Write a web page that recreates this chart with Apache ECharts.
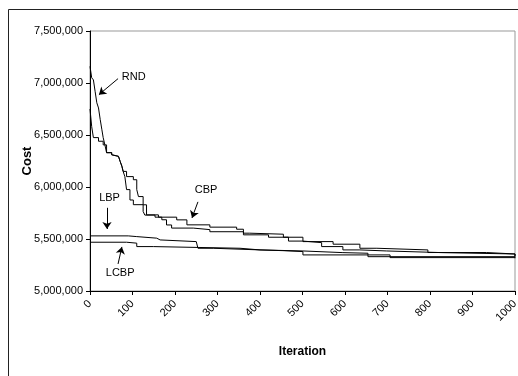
<!DOCTYPE html>
<html>
<head>
<meta charset="utf-8">
<script src="https://cdn.jsdelivr.net/npm/echarts@6/dist/echarts.min.js"></script>
<style>
html,body{margin:0;padding:0;background:#fff;}
#c{width:518px;height:376px;}
</style>
</head>
<body>
<div id="c"></div>
<script>
// ---- data (iteration, cost) ----
var xTicks = [0,100,200,300,400,500,600,700,800,900,1000];
var yTicks = [5000000,5500000,6000000,6500000,7000000,7500000];

var rndIter = [0,4,8,12,16,20,24,28,31,35,39,51,55,67,71,75,78,82,86,94,102,125,129,153,169,180,192,243,282,361,420,467,501,545,595,635,698,828,1000];
var rndCost = [7160000,7050000,7030000,6920000,6810000,6760000,6650000,6550000,6475000,6405000,6330000,6310000,6295000,6280000,6245000,6200000,6150000,6100000,5975000,5875000,5830000,5765000,5730000,5710000,5685000,5635000,5605000,5590000,5570000,5540000,5517000,5480000,5465000,5427000,5395000,5385000,5369000,5356000,5330000];

var cbpIter = [0,4,8,20,31,39,51,55,67,71,75,78,86,102,110,114,125,133,161,204,228,282,345,361,376,455,501,572,635,675,795,933,1000];
var cbpCost = [6750000,6580000,6475000,6440000,6405000,6330000,6310000,6295000,6280000,6245000,6200000,6150000,6100000,6070000,5975000,5908000,5829000,5732000,5710000,5684000,5636000,5614000,5594000,5556000,5546000,5517000,5475000,5450000,5411000,5395000,5370000,5356000,5337000];

var lbpIter = [0,90,110,157,165,250,254,290,400,454,501,706,1000];
var lbpCost = [5530000,5523000,5508000,5491000,5475000,5469000,5411000,5395000,5388000,5379000,5347000,5321000,5320000];

var lcbpIter = [0,86,110,149,353,400,501,595,654,1000];
var lcbpCost = [5469000,5460000,5427000,5411000,5395000,5385000,5369000,5363000,5330000,5315000];

// annotation labels and arrows (data coordinates)
var labelNames = ['RND','CBP','LBP','LCBP'];
var labelIter = [103,273,46,71];
var labelCost = [7062000,5973000,5896000,5173000];
var arrowFromIter = [66,254,40,66];
var arrowFromCost = [7042000,5857000,5800000,5260000];
var arrowToIter = [21,240,40,75];
var arrowToCost = [6888000,5703000,5597000,5424000];

function pairs(xs, ys){ return xs.map(function(x,i){ return [x, ys[i]]; }); }

var font = 'Liberation Sans, Arial, sans-serif';
var chart = echarts.init(document.getElementById('c'), null, {renderer:'canvas'});

function lineSeries(name, xs, ys){
  return {
    name: name, type: 'line', step: 'end', showSymbol: false, symbol: 'none',
    data: pairs(xs, ys), animation: false,
    lineStyle: {color: '#000', width: 1}
  };
}

var annot = {
  type: 'line', data: [], silent: true, animation: false, symbol: 'none',
  markPoint: {
    symbol: 'rect', symbolSize: 1, itemStyle: {color: 'rgba(0,0,0,0)'},
    label: {show: true, position: 'inside', color: '#000', fontSize: 11, fontFamily: font, formatter: '{b}'},
    data: labelNames.map(function(n,i){ return {name: n, coord: [labelIter[i], labelCost[i]]}; })
  },
  markLine: {
    silent: true, symbolSize: 7,
    lineStyle: {color: '#000', width: 1, type: 'solid'},
    label: {show: false},
    data: labelNames.map(function(n,i){
      return [{coord: [arrowFromIter[i], arrowFromCost[i]], symbol: 'none'},
              {coord: [arrowToIter[i], arrowToCost[i]], symbol: 'arrow'}];
    })
  }
};

chart.setOption({
  animation: false,
  backgroundColor: '#fff',
  grid: {left: 90, right: 3, top: 31, bottom: 85, show: true, borderColor: '#999', borderWidth: 1, outerBoundsMode: 'none'},
  xAxis: {
    type: 'value', min: xTicks[0], max: xTicks[xTicks.length-1], interval: 100,
    name: 'Iteration', nameLocation: 'middle', nameGap: 55, nameMoveOverlap: false,
    nameTextStyle: {fontFamily: font, fontSize: 12, fontWeight: 'bold', color: '#000'},
    axisLine: {show: true, lineStyle: {color: '#000', width: 1}},
    axisTick: {show: true, length: 4, lineStyle: {color: '#000'}},
    axisLabel: {rotate: 45, fontFamily: font, fontSize: 11, color: '#000', margin: 11,
      formatter: function(v){ return String(v); }},
    splitLine: {show: false}
  },
  yAxis: {
    type: 'value', min: yTicks[0], max: yTicks[yTicks.length-1], interval: 500000,
    name: 'Cost', nameLocation: 'middle', nameGap: 56, nameMoveOverlap: false,
    nameTextStyle: {fontFamily: font, fontSize: 13, fontWeight: 'bold', color: '#000'},
    axisLine: {show: true, lineStyle: {color: '#000', width: 1}},
    axisTick: {show: true, length: 4, lineStyle: {color: '#000'}},
    axisLabel: {fontFamily: font, fontSize: 11, color: '#000', margin: 7,
      formatter: function(v){ return v.toLocaleString('en-US'); }},
    splitLine: {show: false}
  },
  graphic: [{
    type: 'rect', left: 6, top: 7, silent: true,
    shape: {x: 0.5, y: 0.5, width: 620, height: 620},
    style: {fill: 'none', stroke: '#222', lineWidth: 1}
  }],
  series: [
    lineSeries('RND', rndIter, rndCost),
    lineSeries('CBP', cbpIter, cbpCost),
    lineSeries('LBP', lbpIter, lbpCost),
    lineSeries('LCBP', lcbpIter, lcbpCost),
    annot
  ]
});
</script>
</body>
</html>
